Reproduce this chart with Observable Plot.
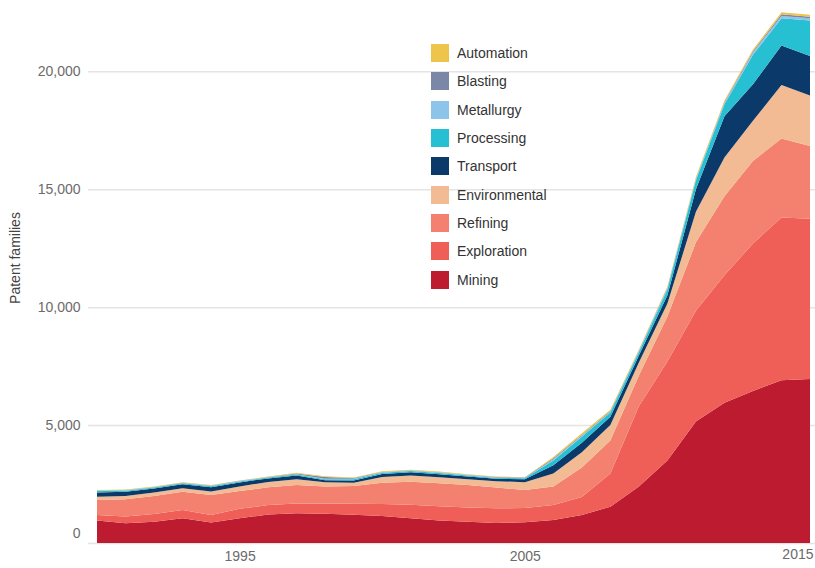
<!DOCTYPE html>
<html>
<head>
<meta charset="utf-8">
<script src="https://cdn.jsdelivr.net/npm/d3@7"></script>
<script src="https://cdn.jsdelivr.net/npm/@observablehq/plot@0.6"></script>
<style>
  body { margin: 0; background: #fff; font-family: "Liberation Sans", Arial, sans-serif; }
  #wrap { position: relative; width: 815px; height: 568px; }
  #legend { position: absolute; left: 431px; top: 39px; }
  .row { display: flex; align-items: center; height: 28.3px; }
  .sw { width: 18px; height: 18px; margin-right: 8px; }
  .lb { font-size: 14px; color: #333; }
  #ytitle { position: absolute; left: 15px; top: 258px; transform: translate(-50%, -50%) rotate(-90deg);
            white-space: nowrap; font-size: 14px; color: #444; }
</style>
</head>
<body>
<div id="wrap"></div>
<script>
// ---- data ----
const years = [1990,1991,1992,1993,1994,1995,1996,1997,1998,1999,2000,2001,2002,2003,2004,2005,2006,2007,2008,2009,2010,2011,2012,2013,2014,2015];
const mining        = [950, 840, 900,1045, 870,1045,1210,1260,1240,1200,1150,1050, 950, 900, 850, 880, 980,1190,1540,2400,3500,5150,5950,6450,6900,6950];
const exploration   = [240, 280, 330, 355, 320, 405, 400, 420, 440, 460, 500, 570, 610, 600, 620, 600, 630, 760,1410,3400,4200,4700,5400,6250,6900,6800];
const refining      = [630, 730, 760, 770, 840, 750, 750, 780, 720, 760, 910, 980, 970, 960, 880, 770, 790,1250,1400,1300,1900,2900,3350,3500,3350,3080];
const environmental = [140, 140, 150, 150, 150, 200, 230, 240, 180, 140, 240, 260, 260, 240, 270, 330, 550, 650, 650, 550, 550,1300,1650,1700,2270,2140];
const transport     = [180, 180, 170, 170, 180, 170, 150, 160,  80,  90, 130, 140, 130, 120, 100, 120, 350, 400, 350, 300, 350, 950,1750,1550,1680,1680];
const processing    = [ 60,  50,  40,  40,  50,  40,  35,  40,  40,  50,  50,  50,  50,  40,  40,  45, 200, 250, 180, 150, 250, 380, 500,1250,1150,1500];
const metallurgy    = [ 15,  15,  15,  15,  15,  15,  15,  20,  20,  20,  20,  20,  20,  20,  20,  15,  50,  50,  40,  40,  50,  50,  60, 100, 100, 100];
const blasting      = [ 10,  10,  10,  10,  15,  10,  10,  30,  80,  40,  15,  15,  15,  15,  15,  15,  40,  30,  30,  20,  30,  30,  40,  50,  70,  60];
const automation    = [ 25,  25,  25,  20,  20,  15,  20,  30,  30,  20,  25,  25,  25,  25,  25,  15,  60,  70,  50,  40,  50,  60,  60,  70,  80,  90];

// bottom -> top stacking order
const seriesNames = ["Mining","Exploration","Refining","Environmental","Transport","Processing","Metallurgy","Blasting","Automation"];
const seriesValues = [mining, exploration, refining, environmental, transport, processing, metallurgy, blasting, automation];
const seriesColors = ["#bc1b30","#ef5e57","#f4806f","#f2bb93","#0b3a6a","#27bfd2","#8cc4ea","#7a87a6","#efc44a"];
const yTicks = [5000, 10000, 15000, 20000];
const xTicks = [1995, 2005];
const lastYear = [2015];
const yTitle = "Patent families";

const data = [];
seriesNames.forEach((s, i) => {
  years.forEach((yr, j) => data.push({series: s, year: yr, value: seriesValues[i][j]}));
});

const fmt = d3.format(",");
const chart = Plot.plot({
  width: 815,
  height: 568,
  marginLeft: 97,
  marginRight: 5,
  marginTop: 10,
  marginBottom: 25,
  style: {fontFamily: '"Liberation Sans", Arial, sans-serif', background: "#fff"},
  x: {domain: [1990, 2015], axis: null},
  y: {domain: [0, 22600], axis: null},
  color: {domain: seriesNames, range: seriesColors},
  marks: [
    Plot.ruleY([0, ...yTicks], {stroke: "#e4e4e4", strokeWidth: 1.5, insetLeft: -9, insetRight: -5}),
    Plot.areaY(data, {x: "year", y: "value", z: "series", fill: "series", order: seriesNames, curve: "linear"}),
    Plot.axisY(yTicks, {anchor: "left", tickSize: 0, tickPadding: 17, tickFormat: fmt, fontSize: 14, fill: "#6b6b6b", label: null}),
    Plot.text([0], {y: d => d, frameAnchor: "left", dx: -17, dy: -10, textAnchor: "end", fontSize: 14, fill: "#6b6b6b", text: d => fmt(d)}),
    Plot.axisX(xTicks, {anchor: "bottom", tickSize: 0, tickPadding: 8, tickFormat: d => String(d), fontSize: 14, fill: "#6b6b6b", label: null}),
    Plot.text(lastYear, {x: d => d, frameAnchor: "bottom", dy: 15, dx: 3, textAnchor: "end", fontSize: 14, fill: "#6b6b6b", text: d => String(d)})
  ]
});
const wrap = document.getElementById("wrap");
wrap.appendChild(chart);

// y-axis title
const yt = document.createElement("div");
yt.id = "ytitle";
yt.textContent = yTitle;
wrap.appendChild(yt);

// legend (top entry = top of stack)
const legend = document.createElement("div");
legend.id = "legend";
[...seriesNames].reverse().forEach(name => {
  const i = seriesNames.indexOf(name);
  const row = document.createElement("div");
  row.className = "row";
  const sw = document.createElement("div");
  sw.className = "sw";
  sw.style.background = seriesColors[i];
  const lb = document.createElement("span");
  lb.className = "lb";
  lb.textContent = name;
  row.appendChild(sw); row.appendChild(lb);
  legend.appendChild(row);
});
wrap.appendChild(legend);
</script>
</body>
</html>
